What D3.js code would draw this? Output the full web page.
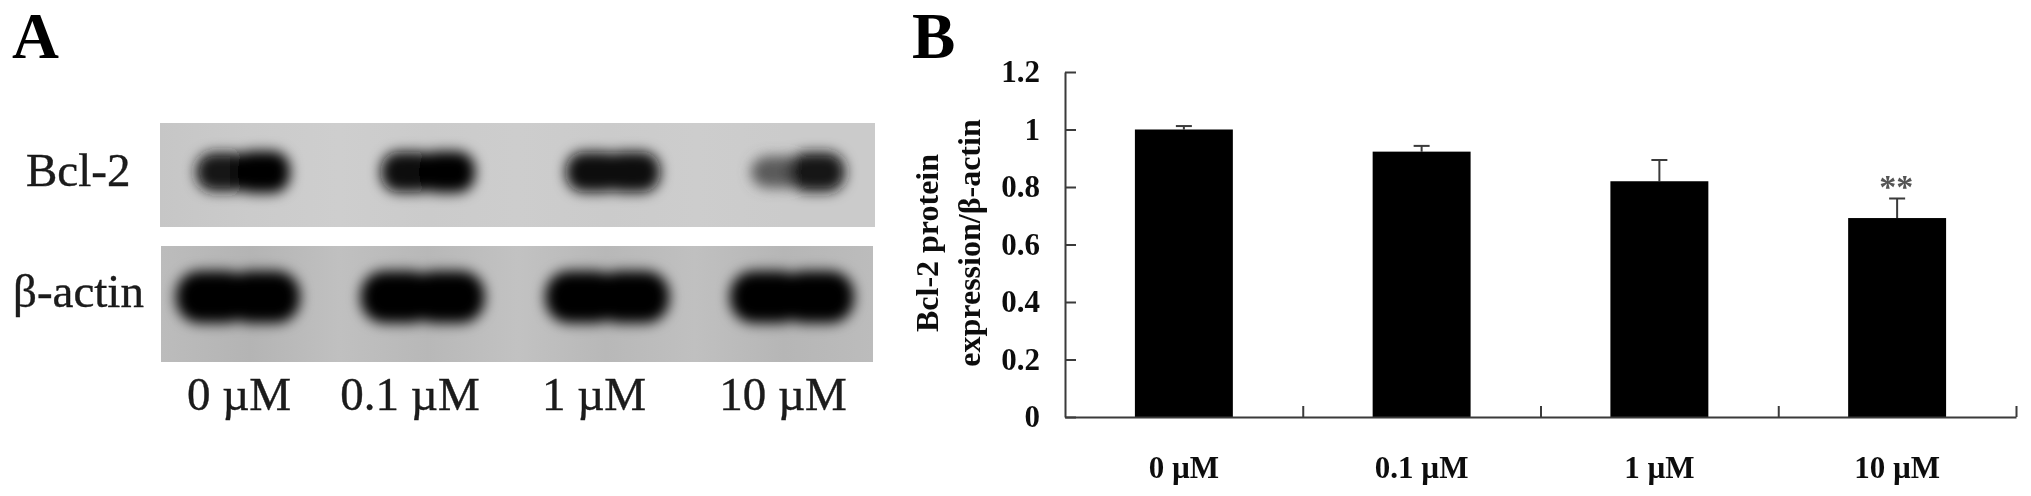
<!DOCTYPE html>
<html lang="en">
<head>
<meta charset="utf-8">
<title>Bcl-2 protein expression</title>
<script src="https://cdn.jsdelivr.net/npm/d3@7"></script>
<style>
  html, body { margin: 0; padding: 0; background: #fff; }
  svg { display: block; }
  text { font-family: "Liberation Serif", serif; fill: #111; }
  .panel { font-size: 65px; font-weight: bold; fill: #000; }
  .blot-label { font-size: 47px; fill: #1a1a1a; stroke: #1a1a1a; stroke-width: 0.4px; }
  .axis text { font-size: 31px; font-weight: bold; fill: #111; font-family: "Liberation Serif", serif; }
  .axis path, .axis line { stroke: #3a3a3a; stroke-width: 2px; }
  .ytitle { font-size: 32px; font-weight: bold; }
  .stars { font-size: 34px; font-weight: bold; fill: #555; }
</style>
</head>
<body>
<svg width="2031" height="496"></svg>
<script>
var doses = ['0 µM', '0.1 µM', '1 µM', '10 µM'];

// panel B
var means = [1.0, 0.923, 0.82, 0.692];
var errors = [0.012, 0.02, 0.074, 0.068];
var yTicks = [0, 0.2, 0.4, 0.6, 0.8, 1, 1.2];
var stars = ['', '', '', '**'];

var bcl2Left = [0.88, 0.94, 0.92, 0.55];
var bcl2Right = [1, 0.97, 0.94, 0.9];
var actinLeft = [1, 1, 1, 1];
var actinRight = [1, 1, 1, 1];

var svg = d3.select('svg');
var defs = svg.append('defs');

defs.append('filter').attr('id', 'soft').append('feGaussianBlur').attr('stdDeviation', 0.6);
defs.append('filter').attr('id', 'band')
  .attr('x', '-40%').attr('y', '-60%').attr('width', '180%').attr('height', '220%')
  .append('feGaussianBlur').attr('stdDeviation', 6.5);

svg.append('text').attr('class', 'panel').attr('x', 12).attr('y', 58).text('A');
svg.append('text').attr('class', 'panel').attr('x', 912).attr('y', 58).text('B');

// ---- panel A ----
var blots = [
  { name: 'Bcl-2', top: 123, bottom: 227, left: 160, right: 875, lanes: ['#c6c6c6', '#cbcbcb', '#cecece', '#cbcbcb', '#cdcdcd', '#cbcbcb', '#cdcdcd', '#cbcbcb', '#cbcbcb'],
    from: 243, to: 798, cy: 172, rx: 28, ry: 21, gap: 19, corner: 18, lobeL: bcl2Left, lobeR: bcl2Right, labelX: 26, labelY: 186 },
  { name: 'β-actin', top: 246, bottom: 362, left: 161, right: 873, lanes: ['#bcbcbc', '#b4b4b4', '#c0c0c0', '#b8b8b8', '#c2c2c2', '#b8b8b8', '#c0c0c0', '#b6b6b6', '#bcbcbc'],
    from: 238, to: 792, cy: 297, rx: 37, ry: 26, gap: 25, corner: 24, lobeL: actinLeft, lobeR: actinRight, labelX: 13, labelY: 307 }
];

var darkness = d3.scaleLinear().domain([0, 1]).range(['#c8c8c8', '#000']);

blots.forEach(function(b, i) {
  var lane = d3.scalePoint().domain(doses).range([b.from, b.to]);
  var gradId = 'bg' + i;
  var shadeStop = d3.scaleLinear().domain([0, b.lanes.length - 1]).range([0, 100]);
  defs.append('linearGradient').attr('id', gradId)
    .selectAll('stop').data(b.lanes).enter().append('stop')
    .attr('offset', function(d, j) { return shadeStop(j) + '%'; })
    .attr('stop-color', function(d) { return d; });

  var clipId = 'clip' + i;
  defs.append('clipPath').attr('id', clipId).append('rect')
    .attr('x', b.left).attr('y', b.top).attr('width', b.right - b.left).attr('height', b.bottom - b.top);

  svg.append('rect')
    .attr('x', b.left).attr('y', b.top).attr('width', b.right - b.left).attr('height', b.bottom - b.top)
    .attr('fill', 'url(#' + gradId + ')');

  var g = svg.append('g').attr('clip-path', 'url(#' + clipId + ')').append('g').attr('filter', 'url(#band)');

  function lobe(values, side) {
    g.selectAll('.lobe' + side).data(doses).enter().append('rect')
      .attr('class', 'lobe' + side)
      .attr('x', function(d) { return lane(d) + side * b.gap - b.rx; })
      .attr('width', b.rx * 2)
      .attr('y', function(d, j) { return b.cy - b.ry * (0.45 + 0.55 * values[j]); })
      .attr('height', function(d, j) { return 2 * b.ry * (0.45 + 0.55 * values[j]); })
      .attr('rx', b.corner)
      .attr('fill', function(d, j) { return darkness(values[j]); });
  }
  lobe(b.lobeL, -1);
  lobe(b.lobeR, 1);

  svg.append('text').attr('class', 'blot-label').attr('filter', 'url(#soft)')
    .attr('x', b.labelX).attr('y', b.labelY).text(b.name);
});

var blotLabelX = d3.scaleOrdinal().domain(doses).range([239, 410, 594, 783]);
svg.selectAll('.dose').data(doses).enter().append('text')
  .attr('class', 'blot-label dose')
  .attr('filter', 'url(#soft)')
  .attr('text-anchor', 'middle')
  .attr('x', function(d) { return blotLabelX(d); })
  .attr('y', 410)
  .text(function(d) { return d; });

// ---- panel B ----
var plot = { left: 1065, right: 2016, top: 72, bottom: 417 };

var x = d3.scaleBand().domain(doses).range([plot.left, plot.right]).paddingInner(0.588).paddingOuter(0.294);
var xEdges = d3.scaleLinear().domain([0, doses.length]).range([plot.left, plot.right]);
var y = d3.scaleLinear().domain([0, 1.2]).range([plot.bottom, plot.top]);

var chart = svg.append('g').attr('filter', 'url(#soft)');

chart.selectAll('.err').data(means).enter().append('line')
  .attr('class', 'err')
  .attr('x1', function(d, i) { return x(doses[i]) + x.bandwidth() / 2; })
  .attr('x2', function(d, i) { return x(doses[i]) + x.bandwidth() / 2; })
  .attr('y1', function(d) { return y(d); })
  .attr('y2', function(d, i) { return y(d + errors[i]); })
  .attr('stroke', '#3a3a3a').attr('stroke-width', 2);

chart.selectAll('.cap').data(means).enter().append('line')
  .attr('class', 'cap')
  .attr('x1', function(d, i) { return x(doses[i]) + x.bandwidth() / 2 - 8; })
  .attr('x2', function(d, i) { return x(doses[i]) + x.bandwidth() / 2 + 8; })
  .attr('y1', function(d, i) { return y(d + errors[i]); })
  .attr('y2', function(d, i) { return y(d + errors[i]); })
  .attr('stroke', '#3a3a3a').attr('stroke-width', 2);

chart.selectAll('.bar').data(means).enter().append('rect')
  .attr('class', 'bar')
  .attr('x', function(d, i) { return x(doses[i]); })
  .attr('y', function(d) { return y(d); })
  .attr('width', x.bandwidth())
  .attr('height', function(d) { return y(0) - y(d); })
  .attr('fill', '#000');

chart.selectAll('.stars').data(means).enter().append('text')
  .attr('class', 'stars')
  .attr('text-anchor', 'middle')
  .attr('x', function(d, i) { return x(doses[i]) + x.bandwidth() / 2 - 1; })
  .attr('y', function(d, i) { return y(d + errors[i]) - 1; })
  .text(function(d, i) { return stars[i]; });

// y axis, ticks point into the plot
chart.append('g').attr('class', 'axis')
  .attr('transform', 'translate(' + plot.left + ',0)')
  .call(d3.axisLeft(y).tickValues(yTicks).tickFormat(d3.format('~g')).tickSizeInner(-11).tickSizeOuter(0).tickPadding(25));

// x axis: the ticks sit between the bars, the labels under them
chart.append('g').attr('class', 'axis')
  .attr('transform', 'translate(0,' + plot.bottom + ')')
  .call(d3.axisBottom(xEdges).tickValues([1, 2, 3, 4]).tickFormat('').tickSizeInner(-11).tickSizeOuter(0));

var xLabels = chart.append('g').attr('class', 'axis')
  .attr('transform', 'translate(0,' + plot.bottom + ')')
  .call(d3.axisBottom(x).tickSize(0).tickPadding(39));
xLabels.select('.domain').remove();

var title = chart.append('text').attr('class', 'ytitle')
  .attr('text-anchor', 'middle')
  .attr('transform', 'translate(938,243) rotate(-90)');
title.append('tspan').attr('x', 0).attr('y', 0).text('Bcl-2 protein');
title.append('tspan').attr('x', 0).attr('y', 42).text('expression/β-actin');
</script>
</body>
</html>
